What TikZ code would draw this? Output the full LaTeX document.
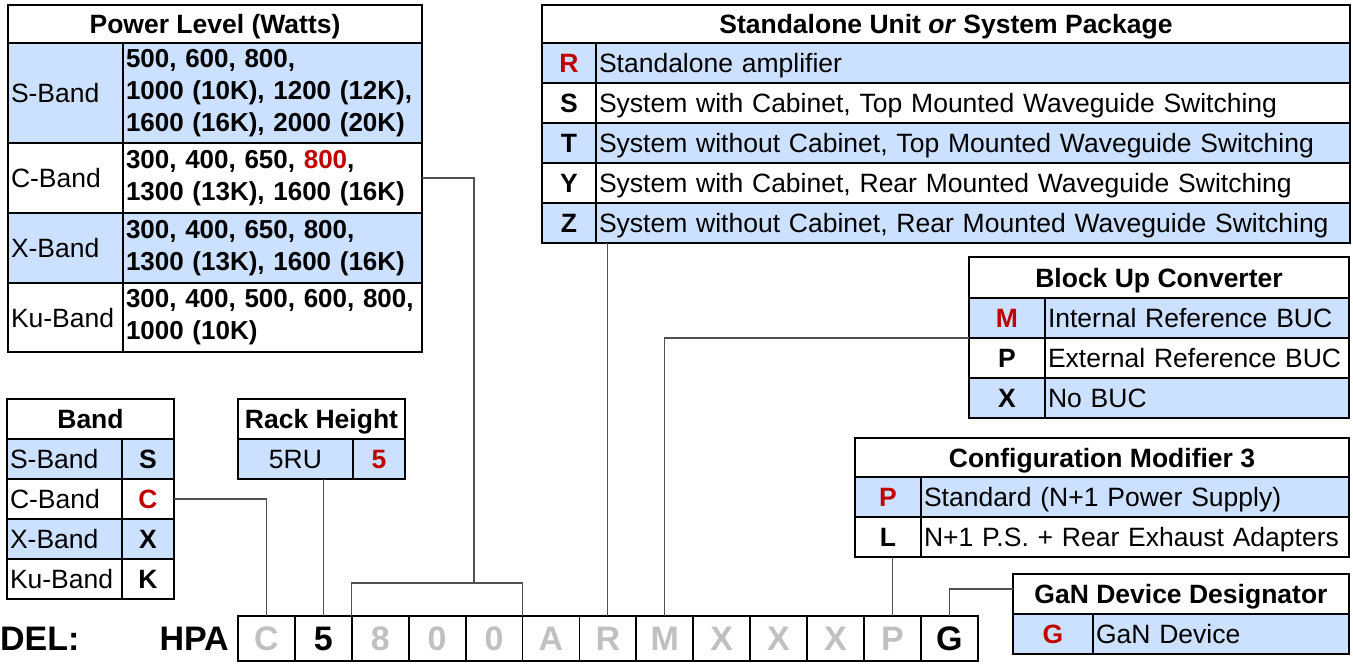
\documentclass[tikz,border=0pt]{standalone}
\usepackage{fontspec}
\setmainfont{Liberation Sans}
\usepackage{tikz}
\usetikzlibrary{calc}
\definecolor{rowblue}{HTML}{CCE0FF}
\definecolor{pickred}{HTML}{C00000}
\definecolor{unset}{HTML}{C0C0C0}
\definecolor{wiregray}{HTML}{505050}
\def\pick#1{\textcolor{pickred}{#1}}
% one row of a code table: name, key width, text width, fill, node above, key, text
\def\coderow#1#2#3#4#5#6#7{%
  \node[keycell, fill=#4, minimum width=#2] (#1k) at (#5.south west) {#6};
  \node[txtcell, fill=#4, text width=#3] (#1t) at (#1k.north east) {#7};}
\tikzset{
  cell/.style={draw, line width=1.8pt, anchor=north west, outer sep=0pt, inner sep=0pt,
    minimum height=40pt, font=\fontsize{26.5}{31}\selectfont},
  head/.style={cell, font=\bfseries\fontsize{26.5}{31}\selectfont, text height=19pt, text depth=0pt},
  keycell/.style={head},
  txtcell/.style={cell, align=left, inner xsep=3pt, text height=19pt, text depth=0pt},
  vals/.style={cell, align=left, inner xsep=3pt, font=\bfseries\fontsize{26}{32}\selectfont},
  digit/.style={cell, minimum width=56.9pt, minimum height=45pt, text height=24.3pt, text depth=0pt,
    font=\bfseries\fontsize{34}{34}\selectfont},
  wire/.style={draw=wiregray, line width=1.2pt},
}
\begin{document}
\begin{tikzpicture}[x=1pt, y=-1pt]
  \useasboundingbox (0,0) rectangle (1353,665);
  % power level
  \node[head, minimum width=414pt, minimum height=38pt] (pw) at (8,5) {Power Level (Watts)};
  \node[txtcell, fill=rowblue, text width=109pt, minimum height=100pt] (pwSk) at (pw.south west) {S-Band};
  \node[vals, fill=rowblue, text width=293pt, minimum height=100pt] (pwSv) at (pwSk.north east)
    {\mbox{500, 600, 800,}\\\mbox{1000 (10K), 1200 (12K),}\\\mbox{1600 (16K), 2000 (20K)}};
  \node[txtcell, text width=109pt, minimum height=70pt] (pwCk) at (pwSk.south west) {C-Band};
  \node[vals, text width=293pt, minimum height=70pt] (pwCv) at (pwCk.north east)
    {\mbox{300, 400, 650, \pick{800},}\\\mbox{1300 (13K), 1600 (16K)}};
  \node[txtcell, fill=rowblue, text width=109pt, minimum height=70pt] (pwXk) at (pwCk.south west) {X-Band};
  \node[vals, fill=rowblue, text width=293pt, minimum height=70pt] (pwXv) at (pwXk.north east)
    {\mbox{300, 400, 650, 800,}\\\mbox{1300 (13K), 1600 (16K)}};
  \node[txtcell, text width=109pt, minimum height=69pt] (pwKk) at (pwXk.south west) {Ku-Band};
  \node[vals, text width=293pt, minimum height=69pt] (pwKv) at (pwKk.north east)
    {\mbox{300, 400, 500, 600, 800,}\\\mbox{1000 (10K)}};
  % band
  \node[head, minimum width=167pt] (bd) at (7,399) {Band};
  \node[txtcell, fill=rowblue, text width=109pt] (bdSt) at (bd.south west) {S-Band};
  \node[keycell, fill=rowblue, minimum width=52pt] (bdSk) at (bdSt.north east) {S};
  \node[txtcell, text width=109pt] (bdCt) at (bdSt.south west) {C-Band};
  \node[keycell, minimum width=52pt] (bdCk) at (bdCt.north east) {\pick{C}};
  \node[txtcell, fill=rowblue, text width=109pt] (bdXt) at (bdCt.south west) {X-Band};
  \node[keycell, fill=rowblue, minimum width=52pt] (bdXk) at (bdXt.north east) {X};
  \node[txtcell, text width=109pt] (bdKt) at (bdXt.south west) {Ku-Band};
  \node[keycell, minimum width=52pt] (bdKk) at (bdKt.north east) {K};
  % rack height
  \node[head, minimum width=167pt] (rk) at (238,399) {Rack Height};
  \node[cell, fill=rowblue, minimum width=115pt, text height=19pt, text depth=0pt] (rkU) at (rk.south west) {5RU};
  \node[keycell, fill=rowblue, minimum width=52pt] (rkK) at (rkU.north east) {\pick{5}};
  % standalone or system
  \node[head, minimum width=808pt, minimum height=38pt] (sa) at (542,5) {Standalone Unit \textit{or} System Package};
  \coderow{saR}{54pt}{748pt}{rowblue}{sa}{\pick{R}}{Standalone amplifier}
  \coderow{saS}{54pt}{748pt}{white}{saRk}{S}{System with Cabinet, Top Mounted Waveguide Switching}
  \coderow{saT}{54pt}{748pt}{rowblue}{saSk}{T}{System without Cabinet, Top Mounted Waveguide Switching}
  \coderow{saY}{54pt}{748pt}{white}{saTk}{Y}{System with Cabinet, Rear Mounted Waveguide Switching}
  \coderow{saZ}{54pt}{748pt}{rowblue}{saYk}{Z}{System without Cabinet, Rear Mounted Waveguide Switching}
  % block up converter
  \node[head, minimum width=380pt, minimum height=41pt] (bc) at (969,257) {Block Up Converter};
  \coderow{bcM}{76pt}{298pt}{rowblue}{bc}{\pick{M}}{Internal Reference BUC}
  \coderow{bcP}{76pt}{298pt}{white}{bcMk}{P}{External Reference BUC}
  \coderow{bcX}{76pt}{298pt}{rowblue}{bcPk}{X}{No BUC}
  % configuration modifier
  \node[head, minimum width=494pt, minimum height=39pt] (cf) at (855,438) {Configuration Modifier 3};
  \coderow{cfP}{66pt}{422pt}{rowblue}{cf}{\pick{P}}{Standard (N+1 Power Supply)}
  \coderow{cfL}{66pt}{422pt}{white}{cfPk}{L}{N+1 P.S. + Rear Exhaust Adapters}
  % gan device
  \node[head, minimum width=336pt] (gn) at (1013,574) {GaN Device Designator};
  \coderow{gnG}{80pt}{250pt}{rowblue}{gn}{\pick{G}}{GaN Device}
  % model number
  \node[anchor=west, inner sep=0pt, font=\bfseries\fontsize{34}{34}\selectfont] (mdl) at (0,638.5) {DEL:};
  \node[anchor=east, inner sep=0pt, font=\bfseries\fontsize{34}{34}\selectfont] (hpa) at (229,638.5) {HPA};
  \foreach \ch/\tc [count=\i] in {C/unset,5/black,8/unset,0/unset,0/unset,A/unset,R/unset,M/unset,X/unset,X/unset,X/unset,P/unset,G/black}
    \node[digit, text=\tc] (m\i) at ({238+(\i-1)*56.9},616) {\ch};
  % connectors
  \draw[wire] (bdCk.east) -| (m1.north);
  \draw[wire] (rkU.south -| m2.north) -- (m2.north);
  \coordinate (brk) at (474,583);
  \draw[wire] (pwCv.east) -| (brk);
  \draw[wire] (m3.north west) |- (brk) -| (m5.north east);
  \draw[wire] (saZt.south -| m7.north) -- (m7.north);
  \draw[wire] (bcMk.south west) -| (m8.north);
  \draw[wire] (cfLk.south -| m12.north) -- (m12.north);
  \draw[wire] ([yshift=5pt]gn.west) -| (m13.north);
\end{tikzpicture}
\end{document}
